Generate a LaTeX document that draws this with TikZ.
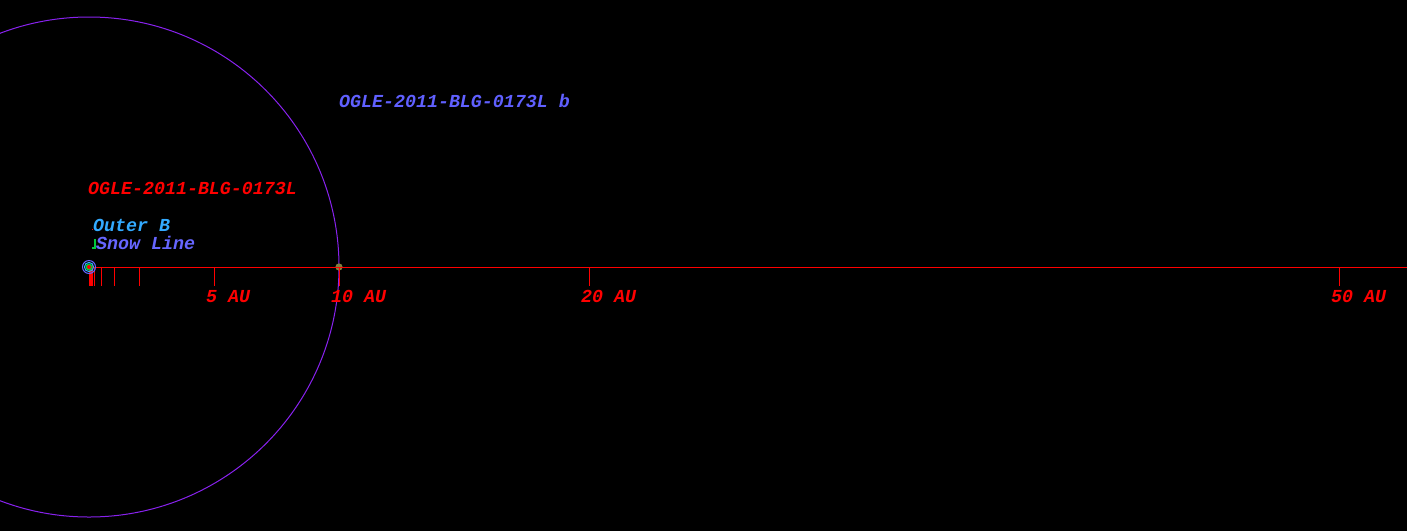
\documentclass[tikz,border=0pt]{standalone}
\usepackage{fontspec}
\setmonofont{Liberation Mono}
\begin{document}
\begin{tikzpicture}[x=1pt,y=-1pt,
  lbl/.style={anchor=base west,inner sep=0pt,font=\fontsize{18.3}{20}\selectfont\ttfamily\bfseries\itshape},
  tick/.style={draw=axisred,line width=1pt},
]
\definecolor{axisred}{RGB}{255,0,0}
\definecolor{orbitviolet}{RGB}{136,34,238}
\definecolor{planetblue}{RGB}{96,96,255}
\definecolor{outerblue}{RGB}{51,170,255}
\definecolor{snowblue}{RGB}{102,102,255}
\definecolor{planetdot}{RGB}{128,128,64}
\definecolor{hzgreen}{RGB}{0,200,60}
\useasboundingbox (0,0) rectangle (1407,531);
\fill[black] (0,0) rectangle (1407,531);
\clip (0,0) rectangle (1407,531);
% star & orbit
\coordinate (star) at (89,267);
\coordinate (axisend) at (1407,267);
\draw[orbitviolet,line width=1pt] (star) circle[radius=250];
% planet
\fill[planetdot] (339,267) circle[radius=3.6];
\node[inner sep=0pt] (planet) at (339,267) {};
% axis
\draw[axisred,line width=1pt] (92,267) -- (axisend);
% ticks
\foreach \au/\nm in {0.2/a,0.5/b,1/c,2/d,5/e,10/f,20/g,50/h}{
  \coordinate (t\nm) at ({89+25*\au},267);
  \draw[tick] (t\nm) -- ++(0,19);
}
\fill[axisred] (89,265) rectangle (92.5,286);
% star rings
\draw[snowblue,line width=1pt] (star) circle[radius=6.5];
\draw[outerblue,line width=1pt] (star) circle[radius=4.6];
\fill[hzgreen] (star) circle[radius=3.6];
\fill[axisred] (star) circle[radius=2];
% labels
\node[lbl,text=axisred] (l5) at (206,302) {5 AU};
\node[lbl,text=axisred] (l10) at (331,302) {10 AU};
\node[lbl,text=axisred] (l20) at (581,302) {20 AU};
\node[lbl,text=axisred] (l50) at (1331,302) {50 AU};
\node[lbl,text=planetblue] (pname) at (339,107.5) {OGLE-2011-BLG-0173L b};
\node[lbl,text=axisred] (sname) at (88,194) {OGLE-2011-BLG-0173L};
\node[lbl,text=outerblue] (outer) at (93,231.5) {Outer B};
\node[lbl,text=snowblue] (snow) at (96,249) {Snow Line};
% small markers
\fill[axisred] (91.5,229) rectangle (92.7,230.2);
\draw[hzgreen,line width=1.3pt] (95,238.5) -- (95,248) -- (92,248);
\end{tikzpicture}
\end{document}
